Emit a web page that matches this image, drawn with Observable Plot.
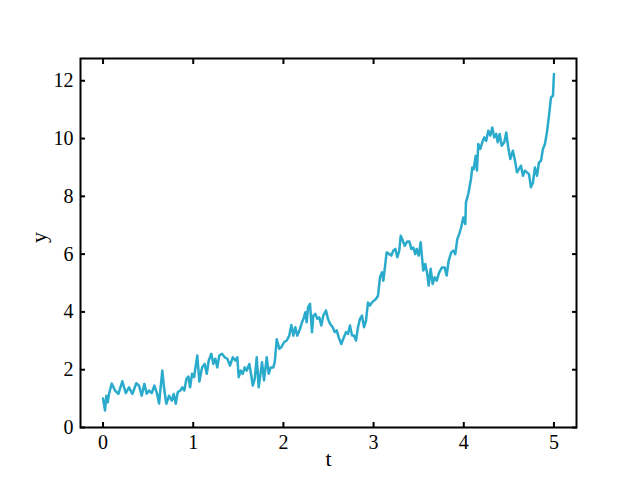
<!DOCTYPE html>
<html><head><meta charset="utf-8">
<script src="https://cdn.jsdelivr.net/npm/d3@7"></script>
<script src="https://cdn.jsdelivr.net/npm/@observablehq/plot@0.6"></script>
<style>body{margin:0;background:#fff} svg text{font-family:"Liberation Serif","DejaVu Serif",serif !important;}</style>
</head><body><div id="chart"></div>
<script>
const tValues = [0,0.022,0.037,0.052,0.067,0.096,0.133,0.170,0.214,0.252,0.288,0.325,0.369,0.399,0.429,0.458,0.484,0.510,0.540,0.569,0.599,0.621,0.657,0.680,0.702,0.732,0.762,0.784,0.806,0.828,0.857,0.879,0.901,0.924,0.946,
0.965,0.987,1.009,1.045,1.068,1.098,1.127,1.150,1.172,1.201,1.223,1.245,1.267,1.289,1.319,1.349,1.378,1.408,1.438,1.467,1.489,1.504,1.527,1.549,1.571,1.593,1.622,1.644,1.660,1.682,1.704,1.726,1.748,1.763,1.785,1.815,1.837,1.859,1.888,1.904,
1.926,1.955,1.977,2.007,2.037,2.065,2.088,2.110,2.132,2.154,2.184,2.206,2.228,2.243,2.258,2.273,2.295,2.317,2.332,2.354,2.376,2.398,2.420,2.442,2.472,2.494,2.517,2.547,2.569,2.591,2.613,2.642,2.664,2.694,2.716,2.738,2.761,2.783,2.805,2.827,2.849,2.871,2.894,2.916,2.938,2.960,2.982,3.004,3.027,3.049,
3.071,3.093,3.108,3.130,3.145,3.174,3.196,3.218,3.241,3.263,3.285,3.301,3.323,3.345,3.374,3.396,3.418,3.440,3.462,3.478,3.500,3.522,3.537,3.551,3.573,3.595,3.611,3.633,3.655,3.677,3.700,3.728,3.758,3.788,3.810,3.833,3.861,3.884,3.906,3.928,3.950,3.972,3.994,4.017,4.024,
4.050,4.080,4.094,4.110,4.132,4.146,4.161,4.183,4.205,4.227,4.249,4.272,4.294,4.316,4.338,4.360,4.376,4.398,4.420,4.449,4.471,4.493,4.516,4.545,4.568,4.590,4.612,4.634,4.656,4.678,4.701,4.723,4.745,4.767,4.789,4.812,4.834,4.856,4.878,4.900,4.922,4.945,4.967,4.989,5.0];
const yValues = [1.0,0.59,1.1,0.87,1.17,1.52,1.28,1.16,1.6,1.19,1.39,1.16,1.53,1.45,1.1,1.51,1.17,1.28,1.19,1.45,1.17,0.83,1.97,1.28,0.82,1.1,0.93,1.16,0.82,1.22,1.28,1.39,1.28,1.68,1.76,
1.39,1.86,1.74,2.49,1.59,2.08,2.2,1.86,2.32,2.55,2.2,2.38,2.08,2.49,2.55,2.43,2.38,2.14,2.43,2.32,2.43,1.74,1.97,1.86,2.08,1.97,2.2,1.8,1.45,1.68,2.43,1.39,1.91,2.26,1.63,2.43,1.86,2.08,2.08,2.26,
3.05,2.72,2.78,2.95,3.01,3.18,3.55,3.18,3.47,3.18,3.41,3.64,3.81,3.99,3.64,4.16,4.28,3.3,3.87,3.93,3.76,3.81,3.53,3.87,4.05,3.76,3.59,3.47,3.3,3.36,3.12,2.89,3.07,3.3,3.24,3.53,3.18,3.18,3.01,3.47,3.76,3.87,3.47,3.7,4.33,4.22,4.33,4.39,4.45,4.56,
5.2,5.37,5.08,5.66,6.06,6.0,5.95,6.12,6.18,5.89,6.12,6.64,6.47,6.29,6.44,6.44,6.18,6.23,6.0,6.18,5.95,6.41,5.89,5.43,5.66,5.31,4.91,5.49,4.97,5.2,5.08,5.37,5.54,5.54,5.26,5.77,6.06,6.12,6.0,6.52,6.7,6.93,7.27,7.04,7.79,
8.08,8.6,9.0,8.94,9.4,8.89,9.81,9.64,9.87,10.04,9.92,10.27,10.1,10.38,10.04,10.16,9.87,10.16,9.75,9.87,10.21,9.69,9.29,9.58,9.23,8.83,8.94,9.06,8.71,8.89,8.83,8.77,8.31,8.48,9.0,8.71,9.17,9.23,9.64,9.81,10.21,10.79,11.42,11.48,12.23];
const xTicks = [0,1,2,3,4,5];
const yTicks = [0,2,4,6,8,10,12];
const xLabel = "t";
const yLabel = "y";

const data = tValues.map((t, i) => ({t, y: yValues[i]}));
const font = "Liberation Serif";
const blank = () => "";

const chart = Plot.plot({
  width: 640, height: 480,
  marginLeft: 80, marginRight: 64, marginTop: 58, marginBottom: 53,
  style: "font-family: 'Liberation Serif', 'DejaVu Serif', serif; font-size: 20px; background: white; color: black;",
  x: {domain: [-0.25, 5.25]},
  y: {domain: [0, 12.77]},
  marks: [
    Plot.line(data, {x: "t", y: "y", stroke: "#2aabcc", strokeWidth: 2.5}),
    Plot.axisX(xTicks, {anchor: "bottom", tickSize: 0, tickPadding: 7, label: null, fontSize: 20, fontFamily: font}),
    Plot.axisY(yTicks, {anchor: "left", tickSize: 0, tickPadding: 7, label: null, fontSize: 20, fontFamily: font}),
    Plot.axisX(xTicks, {anchor: "bottom", tickSize: -5, tickFormat: blank, strokeWidth: 2, label: null}),
    Plot.axisX(xTicks, {anchor: "top", tickSize: -5, tickFormat: blank, strokeWidth: 2, label: null}),
    Plot.axisY(yTicks, {anchor: "left", tickSize: -5, tickFormat: blank, strokeWidth: 2, label: null}),
    Plot.axisY(yTicks, {anchor: "right", tickSize: -5, tickFormat: blank, strokeWidth: 2, label: null}),
    Plot.frame({stroke: "black", strokeWidth: 2}),
    Plot.text([xLabel], {frameAnchor: "bottom", dy: 38, fontSize: 22, fontFamily: font}),
    Plot.text([yLabel], {frameAnchor: "left", dx: -42, rotate: -90, fontSize: 22, fontFamily: font})
  ]
});
document.getElementById("chart").append(chart);
</script>
</body></html>
